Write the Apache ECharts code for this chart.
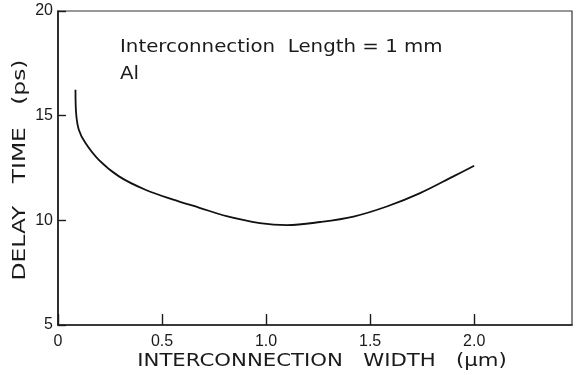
<!DOCTYPE html>
<html>
<head>
<meta charset="utf-8">
<script src="https://cdn.jsdelivr.net/npm/echarts@6/dist/echarts.min.js"></script>
<style>html,body{margin:0;padding:0;background:#fff}#c{width:577px;height:375px}</style>
</head>
<body>
<div id="c"></div>
<script>
var widths = [0.084, 0.087, 0.100, 0.132, 0.196, 0.293, 0.42, 0.55, 0.68, 0.81, 0.97, 1.10, 1.26, 1.42, 1.58, 1.74, 1.90, 2.00];
var delays = [16.24, 15.13, 14.33, 13.69, 12.89, 12.10, 11.46, 11.00, 10.60, 10.20, 9.87, 9.77, 9.92, 10.18, 10.66, 11.30, 12.10, 12.61];
var xTicks = [0, 0.5, 1.0, 1.5, 2.0];
var yTicks = [5, 10, 15, 20];
var xName = 'INTERCONNECTION   WIDTH   (\u03bcm)';
var yName = 'DELAY   TIME   (ps)';
var note1 = 'Interconnection  Length = 1 mm';
var note2 = 'Al';

var chart = echarts.init(document.getElementById('c'), null, {renderer: 'canvas'});
var font = 'Liberation Sans, Arial, sans-serif';
var dfont = 'DejaVu Sans, sans-serif';
var ink = '#1a1a1a';
var data = widths.map(function (w, i) { return [w, delays[i]]; });
chart.setOption({
  animation: false,
  backgroundColor: '#fff',
  grid: {left: 58, right: 5, top: 11, bottom: 50, show: true, borderColor: '#333', borderWidth: 1.2, backgroundColor: 'transparent'},
  xAxis: {
    type: 'value', min: 0, max: 2.47, interval: 0.5,
    axisLine: {lineStyle: {color: ink, width: 1.6}},
    axisTick: {show: true, inside: true, length: 11, lineStyle: {color: ink, width: 1.4}},
    splitLine: {show: false},
    axisLabel: {
      color: ink, fontFamily: font, fontSize: 16, margin: 9, showMaxLabel: false,
      formatter: function (v) { return xTicks.indexOf(v) < 0 ? '' : (v === 0 ? '0' : v.toFixed(1)); }
    }
  },
  yAxis: {
    type: 'value', min: 5, max: 20, interval: 5,
    axisLine: {lineStyle: {color: ink, width: 1.6}},
    axisTick: {show: true, inside: true, length: 8, lineStyle: {color: ink, width: 1.4}},
    splitLine: {show: false},
    axisLabel: {
      color: ink, fontFamily: font, fontSize: 16, margin: 5,
      formatter: function (v) { return yTicks.indexOf(v) < 0 ? '' : String(v); }
    }
  },
  graphic: [
    {type: 'text', x: 20, y: 170, rotation: Math.PI / 2, scaleX: 1.3,
     style: {text: yName, fill: ink, font: '18px ' + dfont, align: 'center', verticalAlign: 'middle', textAlign: 'center', textVerticalAlign: 'middle'}},
    {type: 'text', x: 322, y: 361, scaleX: 1.18,
     style: {text: xName, fill: ink, font: '18px ' + dfont, align: 'center', verticalAlign: 'middle', textAlign: 'center', textVerticalAlign: 'middle'}},
    {type: 'text', x: 120, y: 47, scaleX: 1.1,
     style: {text: note1, fill: ink, font: '18px ' + dfont, align: 'left', verticalAlign: 'middle', textAlign: 'left', textVerticalAlign: 'middle'}},
    {type: 'text', x: 120, y: 74, scaleX: 1.1,
     style: {text: note2, fill: ink, font: '18px ' + dfont, align: 'left', verticalAlign: 'middle', textAlign: 'left', textVerticalAlign: 'middle'}}
  ],
  series: [{
    type: 'line', data: data, smooth: 0.35, showSymbol: false,
    lineStyle: {color: '#111', width: 1.8}
  }]
});
</script>
</body>
</html>
